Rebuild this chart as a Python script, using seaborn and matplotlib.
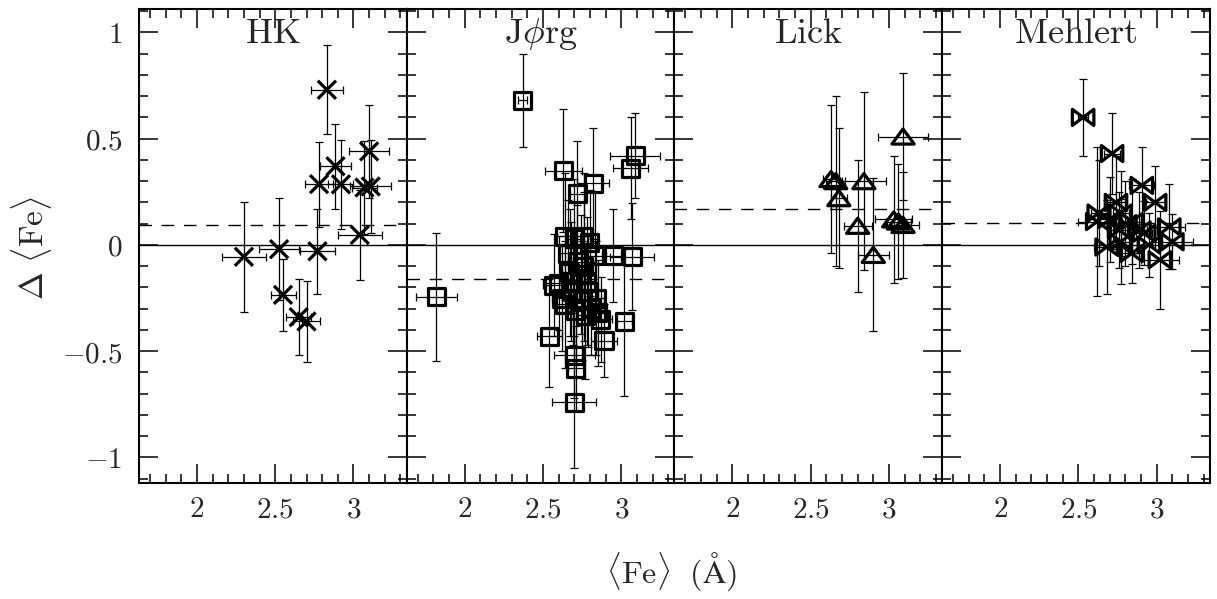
import matplotlib
matplotlib.use('Agg')
import pandas as pd
import matplotlib.pyplot as plt
from matplotlib.path import Path
from matplotlib.ticker import MultipleLocator
import seaborn as sns

# ==================== Global Settings ====================
sns.set_theme(style='ticks')
plt.rcParams['font.family'] = ['DejaVu Serif']
plt.rcParams['mathtext.fontset'] = 'cm'
plt.rcParams['axes.edgecolor'] = 'black'

# ==================== Data ====================
# HK
hk_fe = [2.30, 2.525, 2.55, 2.65, 2.70, 2.77, 2.78, 2.83, 2.885, 2.92, 3.04, 3.07, 3.11, 3.10]
hk_dfe = [-0.056, -0.02, -0.235, -0.34, -0.36, -0.03, 0.286, 0.73, 0.37, 0.285, 0.047, 0.27, 0.275, 0.44]
hk_xerr = [0.14, 0.13, 0.08, 0.08, 0.085, 0.11, 0.09, 0.10, 0.10, 0.08, 0.14, 0.08, 0.13, 0.13]
hk_yerr = [0.26, 0.24, 0.17, 0.18, 0.19, 0.20, 0.20, 0.21, 0.20, 0.21, 0.21, 0.22, 0.22, 0.22]

# Jorg
jo_fe = [1.82, 2.37, 2.63, 2.72, 2.82, 3.09, 3.06, 2.95, 3.07, 2.54, 2.70, 2.71, 2.70, 2.89, 3.02,
         2.64, 2.70, 2.76, 2.80, 2.66, 2.72, 2.60, 2.57, 2.67, 2.74, 2.69, 2.75, 2.64, 2.71, 2.79,
         2.84, 2.81, 2.85, 2.87, 2.77, 2.83, 2.76, 2.62, 2.78, 2.68]
jo_dfe = [-0.245, 0.68, 0.35, 0.24, 0.29, 0.42, 0.36, -0.05, -0.055, -0.43, -0.52, -0.58, -0.74, -0.45, -0.36,
          0.04, 0.03, 0.04, 0.01, -0.04, -0.08, -0.18, -0.19, -0.13, -0.14, -0.22, -0.26, -0.28, -0.31, -0.22,
          -0.25, -0.30, -0.32, -0.35, -0.33, -0.05, -0.10, -0.25, -0.17, -0.17]
jo_xerr = [0.13, 0.03, 0.12, 0.05, 0.10, 0.16, 0.11, 0.05, 0.14, 0.08, 0.13, 0.05, 0.14, 0.08, 0.05,
           0.06, 0.05, 0.05, 0.05, 0.05, 0.06, 0.10, 0.07, 0.05, 0.05, 0.06, 0.05, 0.05, 0.05, 0.06,
           0.05, 0.06, 0.06, 0.07, 0.05, 0.05, 0.05, 0.06, 0.05, 0.08]
jo_yerr = [0.30, 0.22, 0.29, 0.25, 0.26, 0.20, 0.24, 0.22, 0.25, 0.24, 0.20, 0.20, 0.31, 0.17, 0.35,
           0.30, 0.28, 0.30, 0.25, 0.25, 0.27, 0.22, 0.24, 0.30, 0.28, 0.25, 0.28, 0.30, 0.25, 0.26,
           0.27, 0.22, 0.25, 0.20, 0.30, 0.30, 0.35, 0.25, 0.30, 0.28]

# Lick
li_fe = [2.63, 2.66, 2.68, 2.84, 2.80, 2.90, 3.09, 3.03, 3.06, 3.09]
li_dfe = [0.31, 0.30, 0.22, 0.30, 0.09, -0.047, 0.51, 0.12, 0.11, 0.094]
li_xerr = [0.05, 0.06, 0.05, 0.14, 0.09, 0.10, 0.16, 0.12, 0.08, 0.10]
li_yerr = [0.35, 0.40, 0.33, 0.42, 0.31, 0.36, 0.30, 0.30, 0.27, 0.25]

# Mehlert
me_fe = [2.53, 2.715, 2.905, 2.99, 2.63, 2.74, 2.77, 2.62, 2.70, 2.84, 2.89,
         3.08, 3.10, 2.68, 2.77, 2.84, 3.02, 2.92, 2.76, 2.80, 2.95]
me_dfe = [0.60, 0.43, 0.28, 0.20, 0.15, 0.20, 0.15, 0.11, 0.12, 0.11, 0.07,
          0.085, 0.015, -0.01, 0.015, -0.04, -0.07, 0.055, 0.07, 0.10, 0.0]
me_xerr = [0.03, 0.05, 0.08, 0.06, 0.05, 0.06, 0.05, 0.12, 0.06, 0.06, 0.05,
           0.10, 0.13, 0.08, 0.05, 0.06, 0.12, 0.05, 0.05, 0.05, 0.04]
me_yerr = [0.18, 0.19, 0.18, 0.17, 0.25, 0.22, 0.20, 0.35, 0.20, 0.20, 0.18,
           0.20, 0.13, 0.22, 0.20, 0.14, 0.23, 0.15, 0.18, 0.20, 0.15]

titles = [r'$\mathrm{HK}$', r'$\mathrm{J}\phi\mathrm{rg}$', r'$\mathrm{Lick}$', r'$\mathrm{Mehlert}$']
mean_levels = [0.094, -0.16, 0.17, 0.105]   # dashed lines
xtick_vals = [2, 2.5, 3]
xtick_labels = ['2', '2.5', '3']
ytick_vals = [-1, -0.5, 0, 0.5, 1]
ytick_labels = ['-1', '-0.5', '0', '0.5', '1']

# ==================== Markers ====================
tri = Path([(-1, -0.68), (1, -0.68), (0, 0.68), (-1, -0.68)],
           [Path.MOVETO, Path.LINETO, Path.LINETO, Path.CLOSEPOLY])
bowtie = Path([(-1, -0.75), (1, 0.75), (1, -0.75), (-1, 0.75), (-1, -0.75)],
              [Path.MOVETO, Path.LINETO, Path.LINETO, Path.LINETO, Path.CLOSEPOLY])

panels = [
    (hk_fe, hk_dfe, hk_xerr, hk_yerr, 'x', 170),
    (jo_fe, jo_dfe, jo_xerr, jo_yerr, 's', 150),
    (li_fe, li_dfe, li_xerr, li_yerr, tri, 256),
    (me_fe, me_dfe, me_xerr, me_yerr, bowtie, 240),
]

fig, axes = plt.subplots(1, 4, figsize=(12.17, 5.99), dpi=100, sharey=True)
fig.subplots_adjust(left=0.1142, right=0.9942, top=0.985, bottom=0.1937, wspace=0)

for i, (ax, (fe, dfe, xe, ye, mk, size)) in enumerate(zip(axes, panels)):
    df = pd.DataFrame({'fe': fe, 'dfe': dfe, 'xerr': xe, 'yerr': ye})

    ax.axhline(0, color='black', lw=1.0, zorder=1)
    ax.axhline(mean_levels[i], color='black', lw=1.0, ls=(0, (9, 7)), zorder=1)

    ax.errorbar(df['fe'], df['dfe'], xerr=df['xerr'], yerr=df['yerr'], fmt='none',
                ecolor='black', elinewidth=0.9, capsize=3, capthick=0.9, zorder=2)
    sns.scatterplot(data=df, x='fe', y='dfe', marker=mk, s=size, linewidth=2.3, ax=ax,
                    legend=False, zorder=3)
    pts = ax.collections[-1]
    pts.set_facecolor('none')
    pts.set_edgecolor('black')
    pts.set_linewidth(2.3)

    ax.text(0.5, 0.928, titles[i], transform=ax.transAxes, ha='center', va='baseline',
            fontsize=26)

    ax.set_xlim(1.63, 3.34)
    ax.set_ylim(-1.12, 1.11)
    ax.set_xticks(xtick_vals)
    ax.set_xticklabels(['$' + t + '$' for t in xtick_labels], fontsize=21)
    ax.xaxis.set_minor_locator(MultipleLocator(0.1))
    ax.yaxis.set_minor_locator(MultipleLocator(0.1))
    ax.set_yticks(ytick_vals)
    ax.set_xlabel('')
    ax.set_ylabel('')
    ax.tick_params(which='both', direction='in', top=True, right=True, color='black', width=1.1)
    ax.tick_params(which='major', length=14)
    ax.tick_params(which='minor', length=6.5)
    ax.tick_params(axis='x', pad=9)
    ax.tick_params(axis='y', pad=12)
    for sp in ax.spines.values():
        sp.set_linewidth(1.5)
        sp.set_color('black')
    if i == 0:
        ax.set_yticklabels(['$' + t + '$' for t in ytick_labels], fontsize=21)
    else:
        ax.tick_params(axis='y', labelleft=False)

fig.text(0.552, 0.045, r'$\langle\mathrm{Fe}\rangle\ \ (\mathrm{\AA})$', ha='center', va='center',
         fontsize=23)
fig.text(0.026, 0.586, r'$\Delta\ \langle\mathrm{Fe}\rangle$', ha='center', va='center',
         rotation=90, fontsize=24)

plt.savefig('out.png', dpi=100)
